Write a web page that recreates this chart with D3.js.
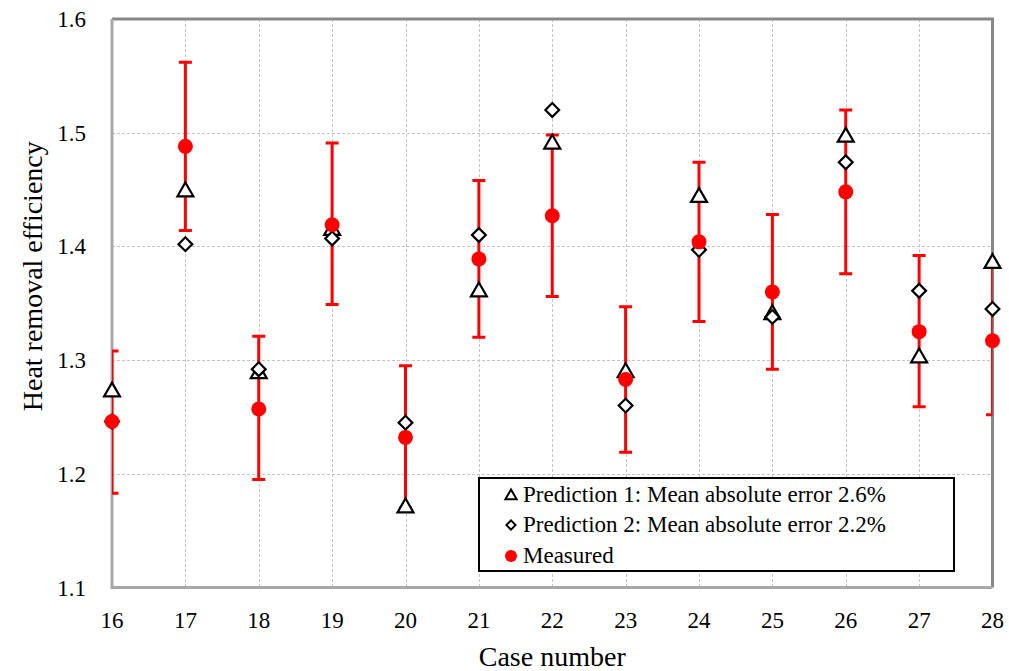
<!DOCTYPE html>
<html>
<head>
<meta charset="utf-8">
<script src="https://d3js.org/d3.v7.min.js"></script>
<style>
    body { margin: 0; font-family: "Liberation Serif", Tinos, "Times New Roman", serif; }
    svg, svg text { font-family: "Liberation Serif", Tinos, "Times New Roman", serif; }
</style>
</head>
<body>
<script>
        // data
        const cases = [16, 17, 18, 19, 20, 21, 22, 23, 24, 25, 26, 27, 28];
        const measured = [1.246, 1.488, 1.257, 1.419, 1.232, 1.389, 1.427, 1.283, 1.404, 1.360, 1.448, 1.325, 1.317];
        const errLow = [1.183, 1.414, 1.195, 1.349, 1.170, 1.320, 1.356, 1.219, 1.334, 1.292, 1.376, 1.259, 1.252];
        const errHigh = [1.308, 1.562, 1.321, 1.491, 1.295, 1.458, 1.498, 1.347, 1.474, 1.428, 1.520, 1.392, 1.384];
        const prediction1 = [1.273, 1.449, 1.289, 1.415, 1.171, 1.361, 1.491, 1.290, 1.444, 1.341, 1.497, 1.303, 1.386];
        const prediction2 = [1.246, 1.402, 1.292, 1.407, 1.245, 1.410, 1.520, 1.260, 1.397, 1.338, 1.474, 1.361, 1.345];
        const yTicks = [1.1, 1.2, 1.3, 1.4, 1.5, 1.6];
        const legendLabels = ["Prediction 1: Mean absolute error 2.6%", "Prediction 2: Mean absolute error 2.2%", "Measured"];

        const width = 1009;
        const height = 671;
        const margin = {left: 112, right: 16, top: 19, bottom: 83.5};

        const svg = d3.select("body").append("svg").attr("width", width).attr("height", height);

        const x = d3.scaleLinear()
            .domain([16, 28])
            .range([margin.left, width - margin.right - 0.5]);
        const y = d3.scaleLinear()
            .domain([1.1, 1.6])
            .range([height - margin.bottom, margin.top]);

        const rows = cases.map((c, i) => ({
            c: c, m: measured[i], lo: errLow[i], hi: errHigh[i], p1: prediction1[i], p2: prediction2[i]
        }));

        svg.append("clipPath").attr("id", "plot-clip")
            .append("rect")
            .attr("x", x(16)).attr("y", y(1.6))
            .attr("width", x(28) - x(16)).attr("height", y(1.1) - y(1.6));

        // gridlines
        const grid = svg.append("g")
            .attr("stroke", "#c4c4c4")
            .attr("stroke-width", 1)
            .attr("stroke-dasharray", "3,2");
        grid.selectAll("line.v")
            .data(cases.slice(1, -1))
            .enter().append("line")
            .attr("x1", d => Math.round(x(d)) + 0.5).attr("x2", d => Math.round(x(d)) + 0.5)
            .attr("y1", y(1.6)).attr("y2", y(1.1));
        grid.selectAll("line.h")
            .data(yTicks.slice(1, -1))
            .enter().append("line")
            .attr("x1", x(16)).attr("x2", x(28))
            .attr("y1", d => Math.round(y(d)) + 0.5).attr("y2", d => Math.round(y(d)) + 0.5);

        // frame
        svg.append("path")
            .attr("d", `M${x(16)},${y(1.6)}H${x(28)}V${y(1.1)}`)
            .attr("fill", "none")
            .attr("stroke", "#878787")
            .attr("stroke-width", 3);
        svg.append("path")
            .attr("d", `M${x(16)},${y(1.6)}V${y(1.1)}H${x(28)}`)
            .attr("fill", "none")
            .attr("stroke", "#a8a8a8")
            .attr("stroke-width", 3);

        // tick labels from the scales
        svg.append("g").selectAll("text")
            .data(yTicks)
            .enter().append("text")
            .attr("x", x(16) - 26)
            .attr("y", d => y(d) + 8)
            .attr("font-size", 23)
            .attr("text-anchor", "end")
            .text(d => d.toFixed(1));
        svg.append("g").selectAll("text")
            .data(cases)
            .enter().append("text")
            .attr("x", d => x(d))
            .attr("y", y(1.1) + 40)
            .attr("font-size", 23)
            .attr("text-anchor", "middle")
            .text(d => d);

        svg.append("text").attr("x", (x(16) + x(28)) / 2).attr("y", 666).attr("font-size", 28)
            .attr("text-anchor", "middle")
            .text("Case number");
        svg.append("text").attr("transform", `translate(42,${(y(1.1) + y(1.6)) / 2 - 27}) rotate(-90)`)
            .attr("font-size", 28)
            .attr("text-anchor", "middle")
            .text("Heat removal efficiency");

        // error bars
        const eb = svg.append("g")
            .attr("clip-path", "url(#plot-clip)")
            .attr("stroke", "#ff0000")
            .attr("stroke-width", 3)
            .attr("fill", "none");
        eb.selectAll("path")
            .data(rows)
            .enter().append("path")
            .attr("d", d => {
                const cx = x(d.c), cap = 6.5;
                return `M${cx},${y(d.hi)}V${y(d.lo)}` +
                    `M${cx - cap},${y(d.hi)}H${cx + cap}` +
                    `M${cx - cap},${y(d.lo)}H${cx + cap}`;
            });

        const triangle = d3.symbol().type(d3.symbolTriangle).size(110);
        const diamond = d3.symbol().type(d3.symbolSquare).size(95);

        svg.append("g")
            .selectAll("path")
            .data(rows)
            .enter().append("path")
            .attr("d", triangle)
            .attr("transform", d => `translate(${x(d.c)},${y(d.p1) + 1})`)
            .attr("fill", "white")
            .attr("stroke", "black")
            .attr("stroke-width", 2.2);

        svg.append("g")
            .selectAll("path")
            .data(rows)
            .enter().append("path")
            .attr("d", diamond)
            .attr("transform", d => `translate(${x(d.c)},${y(d.p2)}) rotate(45)`)
            .attr("fill", "white")
            .attr("stroke", "black")
            .attr("stroke-width", 2.2);

        svg.append("g")
            .selectAll("circle")
            .data(rows)
            .enter().append("circle")
            .attr("cx", d => x(d.c))
            .attr("cy", d => y(d.m))
            .attr("r", 7.5)
            .attr("fill", "#ff0000");

        // legend
        const legend = svg.append("g").attr("transform", "translate(479,478)");
        legend.append("rect")
            .attr("width", 475).attr("height", 93)
            .attr("fill", "white")
            .attr("stroke", "black")
            .attr("stroke-width", 2);
        const legendY = [24, 54, 85];
        legendLabels.forEach((name, i) => {
            const row = legend.append("g").attr("transform", `translate(32,${legendY[i] - 7})`);
            if (i === 0) {
                row.append("path").attr("d", d3.symbol().type(d3.symbolTriangle).size(55))
                    .attr("transform", "translate(0,1)")
                    .attr("fill", "white").attr("stroke", "black").attr("stroke-width", 2);
            } else if (i === 1) {
                row.append("path").attr("d", d3.symbol().type(d3.symbolSquare).size(42))
                    .attr("transform", "rotate(45)")
                    .attr("fill", "white").attr("stroke", "black").attr("stroke-width", 2);
            } else {
                row.append("circle").attr("r", 6).attr("fill", "#ff0000");
            }
            legend.append("text").attr("x", 44).attr("y", legendY[i]).attr("font-size", 23)
                .text(name);
        });
</script>
</body>
</html>
